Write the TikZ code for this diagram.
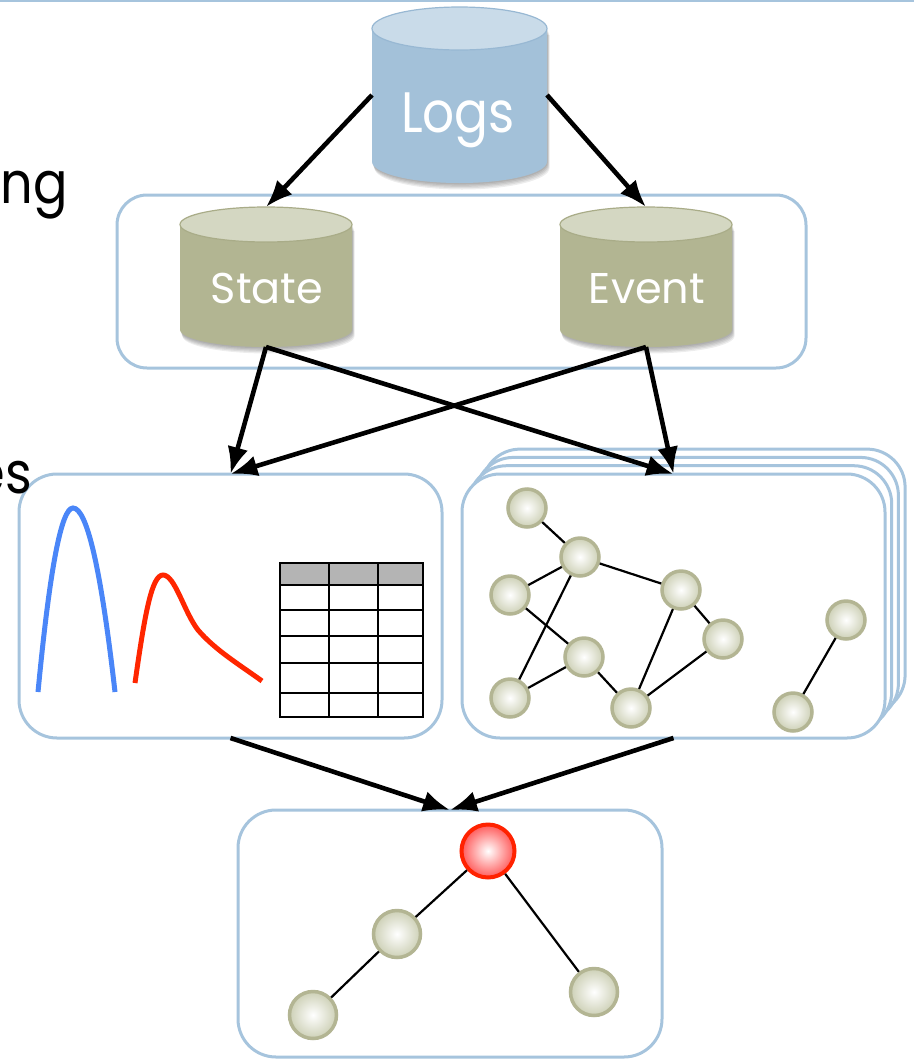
\documentclass[tikz,border=0pt]{standalone}
\usepackage{fontspec}
\setmainfont{Poppins}
\newfontfamily\slidefont[FakeStretch=0.88]{Poppins}
\newfontfamily\storefont{Poppins}
\usetikzlibrary{arrows.meta}

\definecolor{framecol}{HTML}{A6C4DD}
\definecolor{bluebody}{HTML}{A3C1D9}
\definecolor{bluetop}{HTML}{C9DBE9}
\definecolor{blueedge}{HTML}{98B8D3}
\definecolor{olivebody}{HTML}{B2B592}
\definecolor{olivetop}{HTML}{D4D7C2}
\definecolor{oliveedge}{HTML}{A9AC88}
\definecolor{nodeedge}{HTML}{B3B593}
\definecolor{nodefill}{HTML}{CDD0B6}
\definecolor{rootedge}{HTML}{FF2200}
\definecolor{rootfill}{HTML}{FF5A5A}
\definecolor{curveblue}{HTML}{4A86F8}
\definecolor{curvered}{HTML}{FF2600}
\definecolor{headgray}{HTML}{B4B4B4}

% cylinder: #1 name, #2 cx, #3 cy, #4 x radius, #5 half height, #6 y radius, #7 colour set
\newcommand{\drawcyl}[7]{%
  \node[cylframe, minimum width={2*#4*1pt}, minimum height={2*#5*1pt}] (#1) at (#2,#3) {};
  \foreach \s in {1,...,5}{%
    \fill[black, opacity=0.07, shift={(0.5*\s,1.3*\s)}]
      ({#2-#4},{#3-#5+#6}) -- ({#2-#4},{#3+#5-#6})
      arc[start angle=180, end angle=0, x radius=#4, y radius=#6]
      -- ({#2+#4},{#3-#5+#6}) -- cycle;}
  \fill[#7body] ({#2-#4},{#3-#5+#6}) -- ({#2-#4},{#3+#5-#6})
    arc[start angle=180, end angle=0, x radius=#4, y radius=#6]
    -- ({#2+#4},{#3-#5+#6}) -- cycle;
  \filldraw[fill=#7top, draw=#7edge, line width=1.2pt] (#2,{#3-#5+#6}) ellipse[x radius=#4, y radius=#6];
}

\begin{document}
\begin{tikzpicture}[x=1pt, y=-1pt,
  cylframe/.style={rectangle, draw=none, inner sep=0pt, outer sep=0pt},
  cyllabel/.style={text=white, inner sep=0pt, font=\slidefont\fontsize{#1}{#1}\selectfont},
  storelabel/.style={text=white, inner sep=0pt, font=\storefont\fontsize{#1}{#1}\selectfont},
  panel/.style={draw=framecol, line width=3pt, fill=white, rounded corners=#1, inner sep=0pt, outer sep=0pt},
  panel/.default=38pt,
  flow/.style={line width=4.6pt, -{Latex[length=27pt,width=21pt]}},
  gnode/.style={circle, minimum size=#1, inner sep=0pt, draw=nodeedge, line width=3.5pt,
    inner color=white, outer color=nodefill},
  gnode/.default=38pt,
  rootnode/.style={circle, minimum size=53pt, inner sep=0pt, draw=rootedge, line width=4pt,
    inner color=white, outer color=rootfill},
  gedge/.style={line width=2.2pt, black},
  slidetext/.style={inner sep=0pt, font=\slidefont\fontsize{58}{60}\selectfont}
]
\useasboundingbox (0,0) rectangle (914,1061);
\clip (0,0) rectangle (914,1061);

% rule along the top edge
\draw[framecol, line width=2pt] (0,1) -- (914,1);

% data stores
\node[panel=30pt, minimum width=689pt, minimum height=173pt] (stores) at (461.5,281.5) {};
\drawcyl{logs}{459.5}{95}{87.5}{88}{21.5}{blue}
\node[cyllabel=57, anchor=base] (logslabel) at (458,132) {Logs};
\drawcyl{state}{266}{277}{86}{70}{17.5}{olive}
\node[storelabel=43, anchor=base] (statelabel) at (267,303) {State};
\drawcyl{event}{646}{277}{86}{70}{17.5}{olive}
\node[storelabel=43, anchor=base] (eventlabel) at (647,303) {Event};

% stacked graph panels behind the front one
\foreach \k in {3,2,1}{%
  \draw[framecol, line width=3pt, fill=white, rounded corners=38pt]
    ({462+6.7*\k},{474-8.3*\k}) rectangle ({885+6.7*\k},{738-8.3*\k});}

% analysis panels
\node[panel, minimum width=423pt, minimum height=264pt] (series) at (230.5,606) {};
\node[panel, minimum width=423pt, minimum height=264pt] (graphs) at (673.5,606) {};
\node[panel, minimum width=424pt, minimum height=247pt] (result) at (450,933.5) {};

% curves
\draw[curveblue, line width=5pt]
  (38,692) .. controls (49.7,569.3) and (61.3,508) .. (73,508)
  .. controls (87,508) and (101,569.3) .. (115,692);
\draw[curvered, line width=5pt]
  (135,683) .. controls (145,612) and (152,575) .. (163,575)
  .. controls (175,575) and (184,612) .. (198,630)
  .. controls (215,650) and (240,665) .. (262,681);

% table
\fill[headgray] (280,563) rectangle (423,585);
\foreach \yy in {585,610,636,663,693}{\draw[line width=1.3pt] (280,\yy) -- (423,\yy);}
\foreach \xx in {329,378}{\draw[line width=1.3pt] (\xx,563) -- (\xx,717);}
\draw[line width=2pt] (280,563) rectangle (423,717);

% graph
\node[gnode] (g1) at (527,508) {};
\node[gnode] (g2) at (580,557) {};
\node[gnode] (g3) at (510,595) {};
\node[gnode] (g4) at (681,590) {};
\node[gnode] (g5) at (723,639) {};
\node[gnode] (g6) at (584,657) {};
\node[gnode] (g7) at (510,698) {};
\node[gnode] (g8) at (631,708) {};
\node[gnode] (g9) at (846,620) {};
\node[gnode] (g10) at (793,712) {};
\foreach \a/\b in {g1/g2, g2/g3, g2/g4, g2/g7, g3/g6, g6/g7, g6/g8, g4/g8, g4/g5, g5/g8, g9/g10}
  \draw[gedge] (\a) -- (\b);

% result tree
\node[rootnode] (root) at (488,851) {};
\node[gnode=47pt] (t1) at (397,934) {};
\node[gnode=47pt] (t2) at (313,1015) {};
\node[gnode=47pt] (t3) at (594,992) {};
\draw[gedge] (root) -- (t1);
\draw[gedge] (t1) -- (t2);
\draw[gedge] (root) -- (t3);

% flow arrows
\draw[flow] (logs.west) -- (state.north);
\draw[flow] (logs.east) -- (event.north);
\draw[flow] (state.south) -- (series.north);
\draw[flow] (state.south) -- (graphs.north);
\draw[flow] (event.south) -- (series.north);
\draw[flow] (event.south) -- (graphs.north);
\draw[flow] (series.south) -- (result.north);
\draw[flow] (graphs.south) -- (result.north);

% slide text running in from the left
\node[slidetext, anchor=base east] (ngtext) at (68,203) {ng};
\node[slidetext, anchor=base east] (estext) at (32,493) {es};
\end{tikzpicture}
\end{document}
